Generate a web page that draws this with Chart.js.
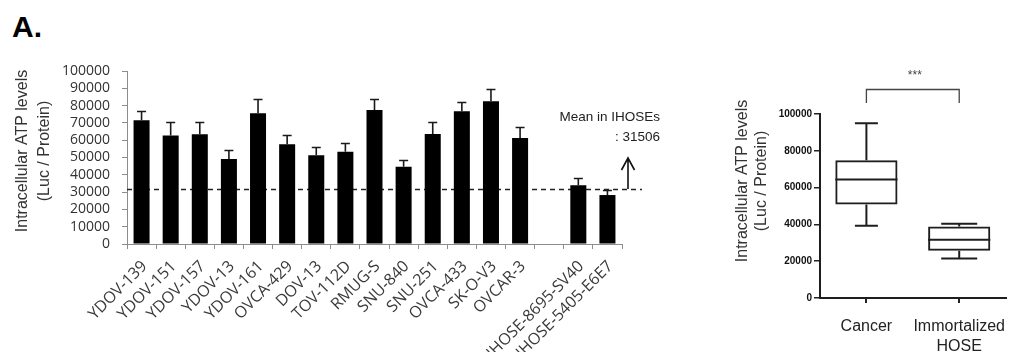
<!DOCTYPE html>
<html>
<head>
<meta charset="utf-8">
<script src="https://cdn.jsdelivr.net/npm/chart.js@4.4.0/dist/chart.umd.min.js"></script>
<style>
  html, body { margin: 0; padding: 0; background: #fff; width: 1013px; height: 352px; overflow: hidden; }
  #panel { position: absolute; left: 12px; top: 12px; font: bold 30px "Liberation Sans", Arial, sans-serif; line-height: 1; color: #000; }
  #leftChart { position: absolute; left: 0; top: 0; }
  #rightChart { position: absolute; left: 690px; top: 0; }
</style>
</head>
<body>
<div id="panel">A.</div>
<canvas id="leftChart" width="680" height="352"></canvas>
<canvas id="rightChart" width="330" height="352"></canvas>
<script>
// ---- Intracellular ATP per cell line (mean ± SD) ----
const cellLines = ['YDOV-139', 'YDOV-151', 'YDOV-157', 'YDOV-13', 'YDOV-161', 'OVCA-429', 'DOV-13',
  'TOV-112D', 'RMUG-S', 'SNU-840', 'SNU-251', 'OVCA-433', 'SK-O-V3', 'OVCAR-3', '',
  'IHOSE-8695-SV40', 'IHOSE-5405-E6E7'];
const atpMean = [71500, 62700, 63500, 49200, 75600, 57700, 51300,
  53300, 77500, 44600, 63600, 76700, 82500, 61200, null, 34000, 28300];
const atpSD = [5500, 7700, 7300, 5400, 8400, 5400, 4800,
  4800, 6400, 4100, 6800, 5400, 7100, 6500, null, 4100, 3000];
const ihoseMean = 31506;
const leftTicks = [0, 10000, 20000, 30000, 40000, 50000, 60000, 70000, 80000, 90000, 100000];

// ---- Cancer vs immortalized HOSE distribution ----
const groups = [['Cancer'], ['Immortalized', 'HOSE']];
const boxMin = [39200, 21500];
const boxQ1 = [50800, 25700];
const boxMedian = [64400, 31600];
const boxQ3 = [74900, 38900];
const boxMax = [94950, 40300];
const significance = '***';
const rightTicks = [0, 20000, 40000, 60000, 80000, 100000];

const yTitle = ['Intracellular ATP levels', '(Luc / Protein)'];
const ARIAL = '"Liberation Sans", Arial, sans-serif';

// two-line rotated y-axis caption, placed by plugin options
const axisCaption = {
  id: 'axisCaption',
  afterDraw(chart, args, opts) {
    const { ctx } = chart;
    ctx.save();
    ctx.fillStyle = '#333';
    ctx.font = opts.size + 'px ' + ARIAL;
    ctx.textAlign = 'center';
    ctx.textBaseline = 'middle';
    yTitle.forEach((line, i) => {
      ctx.save();
      ctx.translate(opts.x[i], opts.cy);
      ctx.rotate(-Math.PI / 2);
      ctx.fillText(line, 0, 0);
      ctx.restore();
    });
    ctx.restore();
  }
};

// dashed reference line at the IHOSE mean, drawn under the bars
const meanLine = {
  id: 'meanLine',
  beforeDatasetsDraw(chart) {
    const { ctx, chartArea: a, scales: { y } } = chart;
    const yy = Math.round(y.getPixelForValue(ihoseMean)) + 0.5;
    ctx.save();
    ctx.strokeStyle = '#222';
    ctx.lineWidth = 1.4;
    ctx.setLineDash([5, 4]);
    ctx.beginPath();
    ctx.moveTo(a.left, yy);
    ctx.lineTo(a.right + 20, yy);
    ctx.stroke();
    ctx.restore();
  },
  afterDraw(chart) {
    const { ctx, chartArea: a, scales: { y } } = chart;
    const yy = Math.round(y.getPixelForValue(ihoseMean));
    const ax = a.right + 6, at = yy - 31;
    ctx.save();
    ctx.strokeStyle = '#111';
    ctx.lineWidth = 1.6;
    ctx.beginPath();
    ctx.moveTo(ax, yy);
    ctx.lineTo(ax, at);
    ctx.moveTo(ax - 6.5, at + 12);
    ctx.lineTo(ax, at);
    ctx.lineTo(ax + 6.5, at + 12);
    ctx.stroke();
    ctx.fillStyle = '#222';
    ctx.font = '13.5px ' + ARIAL;
    ctx.textAlign = 'right';
    ctx.textBaseline = 'middle';
    ctx.fillText('Mean in IHOSEs', a.right + 38, 117);
    ctx.fillText(': ' + ihoseMean, a.right + 38, 137);
    ctx.restore();
  }
};

// upward SD error bars on each bar
const errorBars = {
  id: 'errorBars',
  afterDatasetsDraw(chart) {
    const { ctx, scales: { y } } = chart;
    const meta = chart.getDatasetMeta(0);
    ctx.save();
    ctx.strokeStyle = '#1a1a1a';
    ctx.lineWidth = 1.6;
    meta.data.forEach((bar, i) => {
      const m = atpMean[i], e = atpSD[i];
      if (m == null || e == null) return;
      const top = Math.round(y.getPixelForValue(m + e)) + 0.5;
      ctx.beginPath();
      ctx.moveTo(bar.x, bar.y);
      ctx.lineTo(bar.x, top);
      ctx.moveTo(bar.x - 4.5, top);
      ctx.lineTo(bar.x + 4.5, top);
      ctx.stroke();
    });
    ctx.restore();
  }
};

new Chart(document.getElementById('leftChart'), {
  type: 'bar',
  data: {
    labels: cellLines,
    datasets: [{
      data: atpMean,
      backgroundColor: '#000',
      borderColor: '#000',
      borderWidth: 0,
      categoryPercentage: 1,
      barPercentage: 0.55
    }]
  },
  options: {
    responsive: false,
    animation: false,
    events: [],
    layout: { padding: { top: 71, right: 58, left: 0, bottom: 0 } },
    plugins: {
      legend: { display: false },
      tooltip: { enabled: false },
      axisCaption: { x: [23, 45], cy: 151, size: 16 }
    },
    scales: {
      x: {
        offset: true,
        grid: { display: true, drawOnChartArea: false, drawTicks: true, tickLength: 5, color: '#8c8c8c', offset: true },
        border: { display: true, color: '#8c8c8c', width: 1 },
        ticks: {
          autoSkip: false, minRotation: 45, maxRotation: 45, padding: 8, labelOffset: 3,
          color: '#3a3a3a', font: { family: '"Open Sans", sans-serif', size: 16 }
        },
        afterFit(scale) { scale.height = 108; }
      },
      y: {
        min: leftTicks[0],
        max: leftTicks[leftTicks.length - 1],
        afterBuildTicks(scale) { scale.ticks = leftTicks.map(v => ({ value: v })); },
        grid: { display: true, drawOnChartArea: false, drawTicks: true, tickLength: 5, color: '#8c8c8c' },
        border: { display: true, color: '#8c8c8c', width: 1 },
        ticks: {
          autoSkip: false, padding: 12, color: '#333',
          font: { family: '"Open Sans", sans-serif', size: 14 },
          callback: v => String(v)
        },
        afterFit(scale) { scale.width = 127; }
      }
    }
  },
  plugins: [meanLine, errorBars, axisCaption]
});

// whiskers, median line and significance bracket for the box plot
const boxWhiskers = {
  id: 'boxWhiskers',
  afterDatasetsDraw(chart, args, opts) {
    const { ctx, scales: { y } } = chart;
    const meta = chart.getDatasetMeta(0);
    ctx.save();
    ctx.strokeStyle = '#1e1e1e';
    ctx.lineWidth = 2;
    meta.data.forEach((box, i) => {
      const x = box.x, hw = box.width / 2, cw = opts.capWidth[i] / 2;
      const pMed = y.getPixelForValue(boxMedian[i]);
      const pQ1 = y.getPixelForValue(boxQ1[i]);
      const pQ3 = y.getPixelForValue(boxQ3[i]);
      const pMin = y.getPixelForValue(boxMin[i]);
      const pMax = y.getPixelForValue(boxMax[i]);
      ctx.beginPath();
      ctx.moveTo(x - hw, pMed); ctx.lineTo(x + hw, pMed);
      ctx.moveTo(x, pQ3); ctx.lineTo(x, pMax);
      ctx.moveTo(x - cw, pMax); ctx.lineTo(x + cw, pMax);
      ctx.moveTo(x, pQ1); ctx.lineTo(x, pMin);
      ctx.moveTo(x - cw, pMin); ctx.lineTo(x + cw, pMin);
      ctx.stroke();
    });
    ctx.restore();
  },
  afterDraw(chart) {
    const { ctx, scales: { x } } = chart;
    const x0 = x.getPixelForValue(0), x1 = x.getPixelForValue(1);
    ctx.save();
    ctx.strokeStyle = '#444';
    ctx.lineWidth = 1.3;
    ctx.beginPath();
    ctx.moveTo(x0, 103); ctx.lineTo(x0, 89.5); ctx.lineTo(x1, 89.5); ctx.lineTo(x1, 103);
    ctx.stroke();
    ctx.fillStyle = '#444';
    ctx.font = '12px ' + ARIAL;
    ctx.textAlign = 'center';
    ctx.textBaseline = 'middle';
    ctx.fillText(significance, (x0 + x1) / 2 + 2, 76);
    ctx.restore();
  }
};

new Chart(document.getElementById('rightChart'), {
  type: 'bar',
  data: {
    labels: groups,
    datasets: [{
      data: boxQ1.map((q, i) => [q, boxQ3[i]]),
      backgroundColor: 'rgba(255,255,255,0)',
      borderColor: '#1e1e1e',
      borderWidth: 2,
      borderSkipped: false,
      categoryPercentage: 1,
      barPercentage: 0.67
    }]
  },
  options: {
    responsive: false,
    animation: false,
    events: [],
    layout: { padding: { top: 114, right: 4, left: 0, bottom: 0 } },
    plugins: {
      legend: { display: false },
      tooltip: { enabled: false },
      boxWhiskers: { capWidth: [23, 36] },
      axisCaption: { x: [53, 72], cy: 181, size: 16 }
    },
    scales: {
      x: {
        grid: { display: true, drawOnChartArea: false, drawTicks: true, tickLength: 5, color: '#222', offset: false, lineWidth: 2 },
        border: { display: true, color: '#1e1e1e', width: 2 },
        ticks: {
          padding: 14, color: '#222', maxRotation: 0,
          font: { family: ARIAL, size: 16, lineHeight: 1.25 }
        },
        afterFit(scale) { scale.height = 54; }
      },
      y: {
        min: rightTicks[0],
        max: rightTicks[rightTicks.length - 1],
        afterBuildTicks(scale) { scale.ticks = rightTicks.map(v => ({ value: v })); },
        grid: { display: true, drawOnChartArea: false, drawTicks: true, tickLength: 6, color: '#222', lineWidth: 1.5 },
        border: { display: true, color: '#1e1e1e', width: 2 },
        ticks: {
          autoSkip: false, padding: 2, color: '#111',
          font: { family: '"Liberation Sans Narrow", "Arial Narrow", "Liberation Sans", sans-serif', size: 10, weight: 'bold' },
          callback: v => String(v)
        },
        afterFit(scale) { scale.width = 130; }
      }
    }
  },
  plugins: [boxWhiskers, axisCaption]
});
</script>
</body>
</html>
